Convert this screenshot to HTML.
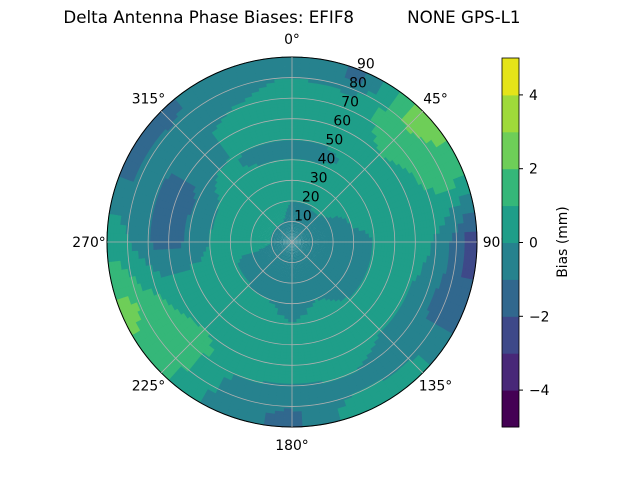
<!DOCTYPE html>
<html><head><meta charset="utf-8"><style>
body{margin:0;background:#fff}
svg text{font-family:"DejaVu Sans","Liberation Sans",sans-serif;font-size:13.9px;fill:#000}
</style></head><body>
<svg id="chart" width="640" height="480" viewBox="0 0 640 480" xmlns="http://www.w3.org/2000/svg">
<text x="292" y="23" text-anchor="middle" xml:space="preserve" style="font-size:16.7px">Delta Antenna Phase Biases: EFIF8          NONE GPS-L1</text>
<g id="cells"></g>
<g id="grid"></g>
<g id="cbar"></g>
<text transform="translate(567,242) rotate(-90)" text-anchor="middle">Bias (mm)</text>
</svg>
<script>
// azimuth nodes (deg, clockwise from north) and zenith nodes (deg)
const azimuths = [0,22.5,45,67.5,90,112.5,135,157.5,180,202.5,225,247.5,270,292.5,315,337.5];
const zeniths = [5,15,25,35,45,55,65,75,85];
// bias values (mm), one row per azimuth, one value per zenith node
const biasValues = [
 [-.4,-.3,.4,.5,-.5,.5,.5,.4,-.4],
 [-.4,-.3,.4,.5,-.3,.5,.5,.3,-1.2],
 [-.4,-.2,.5,.6,.6,.8,1.2,1.8,2.6],
 [-.4,-.3,-.2,.5,.6,.6,.8,1.3,1.5],
 [-.4,-.4,-.3,-.3,.4,.5,.3,-.6,-2.3],
 [-.4,-.4,-.4,-.3,.4,.5,-.3,-1.2,-1.8],
 [-.4,-.4,-.4,-.2,.4,.5,-.3,-.6,.4],
 [-.4,-.4,-.4,.3,.5,.6,.5,-.4,.5],
 [-.4,-.4,-.4,-.3,.5,.6,.4,-.6,-1.3],
 [-.4,-.4,-.3,.3,.5,.6,.5,-.4,-.5],
 [-.4,-.3,-.3,.4,.6,.7,1.3,1.6,1.2],
 [-.4,-.3,-.2,.4,.5,.6,.8,1.4,2.3],
 [-.4,.4,.5,.4,-.4,-1.2,-1.3,-.4,.6],
 [-.4,.4,.5,.4,-.5,-1.3,-1.3,-.6,-1.1],
 [-.4,.4,.5,.5,.4,-.4,-.5,-.6,-1.2],
 [-.4,.3,.5,.5,-.4,.5,.6,-.3,-.5]
];
const levels = [-5,-4,-3,-2,-1,0,1,2,3,4,5];
const cbarTicks = [-4,-2,0,2,4];
const ringTicks = [10,20,30,40,50,60,70,80,90];
const angleTicks = [0,45,90,135,180,225,270,315];

const colors=["#440154","#482878","#3e4989","#31688e","#26828e","#1f9e89","#35b779","#6ece58","#9fda3a","#e5e419"];
const NS="http://www.w3.org/2000/svg";
const cx=292, cy=242, R=185;
const rScale=z=>z/90*R;
const pt=(az,r)=>[(cx+r*Math.sin(az*Math.PI/180)).toFixed(2), (cy-r*Math.cos(az*Math.PI/180)).toFixed(2)];
function colorFor(v){let i=Math.floor(v)-levels[0];i=Math.max(0,Math.min(colors.length-1,i));return colors[i];}
function mk(tag,attrs,parent){const e=document.createElementNS(NS,tag);for(const k in attrs)e.setAttribute(k,attrs[k]);parent.appendChild(e);return e;}
function sample(az,z){
  const n=azimuths.length, st=360/n;
  let fa=((az%360)+360)%360/st; const i0=Math.floor(fa)%n, i1=(i0+1)%n; const ta=fa-Math.floor(fa);
  let fz=(z-zeniths[0])/(zeniths[1]-zeniths[0]); fz=Math.max(0,Math.min(zeniths.length-1,fz));
  const j0=Math.min(zeniths.length-2,Math.floor(fz)), tz=fz-j0, j1=j0+1;
  const a=biasValues[i0][j0]*(1-tz)+biasValues[i0][j1]*tz;
  const b=biasValues[i1][j0]*(1-tz)+biasValues[i1][j1]*tz;
  return a*(1-ta)+b*ta;
}
const cells=document.getElementById('cells');
const dA=3, dZ=1.5;
for(let a=0;a<360;a+=dA){
  for(let z=0;z<90;z+=dZ){
    const v=sample(a+dA/2,z+dZ/2);
    const a0=a-0.25,a1=a+dA+0.25;
    const r0=rScale(z),r1=rScale(z+dZ)+0.4;
    const p1=pt(a0,r1),p2=pt(a1,r1),p3=pt(a1,r0),p4=pt(a0,r0);
    const d=`M${p1}L${p2}L${p3}`+(r0>0?`L${p4}`:'')+'Z';
    const el=mk('path',{d:d,fill:colorFor(v)},cells);
    
    
  }
}

const grid=document.getElementById('grid');
ringTicks.forEach(t=>{
  const c=mk('circle',{cx:cx,cy:cy,r:rScale(t),fill:'none',stroke:t===90?'#000':'#b0b0b0','stroke-width':t===90?1:0.8},grid);
  
  
  const p=pt(22.5,rScale(t)+8);
  const tx=mk('text',{x:p[0],y:+p[1]+5,'text-anchor':'middle'},grid);
  tx.textContent=t;
  
  
});
angleTicks.forEach(a=>{
  const p=pt(a,R);
  const l=mk('line',{x1:cx,y1:cy,x2:p[0],y2:p[1],stroke:'#b0b0b0','stroke-width':0.8},grid);
  
  
  const q=pt(a,R+18);
  const tx=mk('text',{x:q[0],y:+q[1]+5,'text-anchor':'middle'},grid);
  tx.textContent=a+'°';
  
  
});

const cb=document.getElementById('cbar');
const cbX=502,cbW=17,cbTop=58,cbBot=427;
const yS=v=>cbBot-(v-levels[0])/(levels[levels.length-1]-levels[0])*(cbBot-cbTop);
for(let i=0;i<levels.length-1;i++){
  const r=mk('rect',{x:cbX,y:yS(levels[i+1]),width:cbW,height:yS(levels[i])-yS(levels[i+1])+0.5,fill:colors[i]},cb);
  
  
}
mk('rect',{x:cbX,y:cbTop,width:cbW,height:cbBot-cbTop,fill:'none',stroke:'#000','stroke-width':0.8},cb);
cbarTicks.forEach(t=>{
  const y=yS(t);
  mk('line',{x1:cbX+cbW,x2:cbX+cbW+4,y1:y,y2:y,stroke:'#000'},cb);
  const tx=mk('text',{x:cbX+cbW+10,y:y+5},cb);
  tx.textContent=t<0?'\u2212'+(-t):t;
  
  
});
</script>
</body></html>
